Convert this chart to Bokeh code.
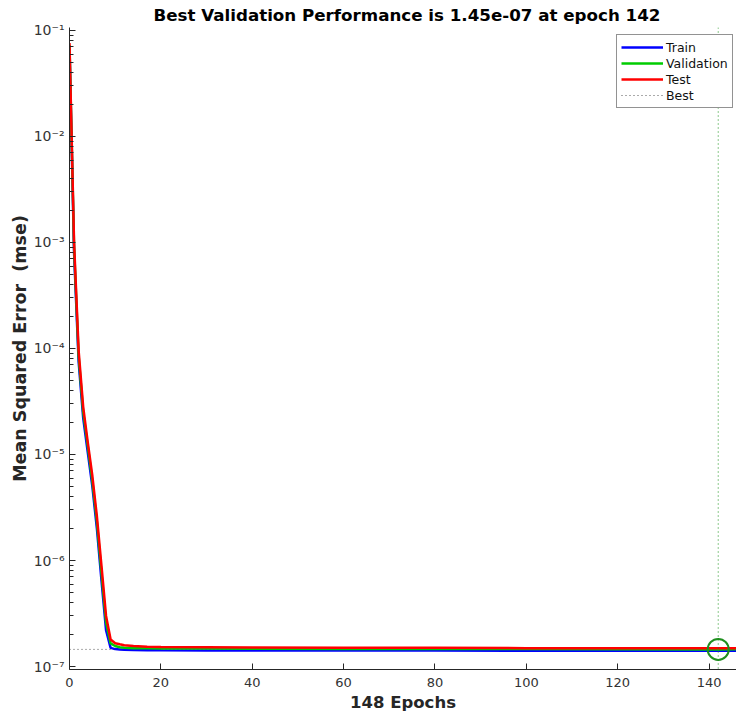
from bokeh.plotting import figure
from bokeh.models import (Range1d, FixedTicker, CustomJSTickFormatter, Span,
                          Legend, LegendItem)
from bokeh.embed import file_html
from bokeh.resources import INLINE

# Network training record: mean squared error per epoch (sampled epochs)
epochs = [0, 1, 2, 3, 4, 5, 6, 7, 8, 9, 10, 11, 12, 14, 17, 20, 30, 40, 60, 80, 100, 120, 142, 148]
train_mse = [7.0e-2, 8.0e-4, 7.5e-5, 2.2e-5, 1.05e-5, 5.0e-6, 2.0e-6, 6.5e-7, 2.2e-7, 1.5e-7,
             1.46e-7, 1.45e-7, 1.44e-7, 1.43e-7, 1.425e-7, 1.42e-7, 1.418e-7, 1.415e-7, 1.413e-7,
             1.412e-7, 1.411e-7, 1.41e-7, 1.41e-7, 1.41e-7]
val_mse = [7.3e-2, 9.0e-4, 8.5e-5, 2.5e-5, 1.2e-5, 5.6e-6, 2.3e-6, 7.6e-7, 2.6e-7, 1.65e-7,
           1.56e-7, 1.52e-7, 1.50e-7, 1.49e-7, 1.485e-7, 1.48e-7, 1.475e-7, 1.47e-7, 1.465e-7,
           1.462e-7, 1.46e-7, 1.455e-7, 1.45e-7, 1.452e-7]
test_mse = [7.6e-2, 1.0e-3, 9.5e-5, 2.8e-5, 1.3e-5, 6.3e-6, 2.6e-6, 8.9e-7, 3.0e-7, 1.8e-7,
            1.66e-7, 1.62e-7, 1.59e-7, 1.56e-7, 1.54e-7, 1.53e-7, 1.52e-7, 1.51e-7, 1.50e-7,
            1.50e-7, 1.49e-7, 1.49e-7, 1.49e-7, 1.49e-7]

total_epochs = 148
best_epoch = 142
best_perf = val_mse[epochs.index(best_epoch)]

x_ticks = [0, 20, 40, 60, 80, 100, 120, 140]
y_ticks = [1e-7, 1e-6, 1e-5, 1e-4, 1e-3, 1e-2, 1e-1]
y_minor = [m * t for t in y_ticks[:-1] for m in range(2, 10)]

FONT = "DejaVu Sans"
AXIS_COLOR = "#262626"

p = figure(width=736, height=717, output_backend="svg", toolbar_location=None,
           y_axis_type="log",
           x_range=Range1d(0, 146), y_range=Range1d(9.37e-8, 0.1067),
           min_border_left=69, min_border_right=0, min_border_top=27,
           min_border_bottom=48)
p.outline_line_color = None
p.background_fill_color = "white"
p.border_fill_color = "white"
p.grid.visible = False

p.title.text = f"Best Validation Performance is {best_perf:.2e} at epoch {best_epoch}"
p.title.text_font = FONT
p.title.text_font_size = "16.7px"
p.title.text_font_style = "bold"
p.title.text_color = "black"
p.title.align = "left"
p.title.offset = 84
p.title.standoff = 5

# x axis
xa = p.xaxis[0]
xa.ticker = FixedTicker(ticks=x_ticks)
xa.axis_label = f"{total_epochs} Epochs"

# y axis: powers of ten with superscript exponents
ya = p.yaxis[0]
ya.ticker = FixedTicker(ticks=y_ticks, minor_ticks=y_minor)
ya.formatter = CustomJSTickFormatter(code="""
const sup = {'-': '⁻', '0': '⁰', '1': '¹', '2': '²', '3': '³', '4': '⁴',
             '5': '⁵', '6': '⁶', '7': '⁷', '8': '⁸', '9': '⁹'};
const e = Math.round(Math.log10(tick));
return '10' + String(e).split('').map(c => sup[c]).join('');
""")
ya.axis_label = "Mean Squared Error \u00a0(mse)"

for ax in (xa, ya):
    ax.axis_line_color = AXIS_COLOR
    ax.axis_line_width = 1
    ax.major_tick_line_color = AXIS_COLOR
    ax.minor_tick_line_color = AXIS_COLOR
    ax.major_tick_in = 6
    ax.major_tick_out = 0
    ax.minor_tick_in = 4
    ax.minor_tick_out = 0
    ax.major_label_text_font = FONT
    ax.major_label_text_font_size = "13px"
    ax.major_label_text_color = "#333333"
    ax.axis_label_text_font = FONT
    ax.axis_label_text_font_size = "16.5px"
    ax.axis_label_text_font_style = "bold"
    ax.axis_label_text_color = "#262626"

xa.minor_tick_line_color = None
xa.major_label_standoff = 8
xa.axis_label_standoff = 3
ya.major_label_standoff = 5
ya.major_label_text_font_size = "14px"
ya.axis_label_standoff = 1
ya.axis_label_text_font_size = "17.5px"

# best-performance guide lines
r_best = p.line(x=[epochs[0], total_epochs], y=[best_perf, best_perf],
                line_color="#555555", line_dash="1 3", line_width=1)
p.add_layout(Span(location=best_epoch, dimension="height", line_color="#1a941a",
                  line_dash="1 3", line_width=1))

r_train = p.line(epochs, train_mse, line_color="#0000ff", line_width=2.5)
r_val = p.line(epochs, val_mse, line_color="#00cc00", line_width=2.5)
r_test = p.line(epochs, test_mse, line_color="#ff0000", line_width=2.5)

p.scatter([best_epoch], [best_perf], marker="circle", size=21, fill_color=None,
          line_color="#1f8f1f", line_width=2)

legend = Legend(items=[LegendItem(label="Train", renderers=[r_train]),
                       LegendItem(label="Validation", renderers=[r_val]),
                       LegendItem(label="Test", renderers=[r_test]),
                       LegendItem(label="Best", renderers=[r_best])],
                location=(547, 561))
legend.label_text_font = FONT
legend.label_text_font_size = "12.5px"
legend.label_text_color = "#111111"
legend.label_height = 16
legend.glyph_height = 16
legend.glyph_width = 42
legend.label_standoff = 3
legend.spacing = 0
legend.padding = 4
legend.margin = 0
legend.border_line_color = AXIS_COLOR
legend.border_line_width = 1
legend.background_fill_color = "white"
legend.background_fill_alpha = 1.0
p.add_layout(legend)

open("out.html", "w").write(file_html(p, INLINE))
